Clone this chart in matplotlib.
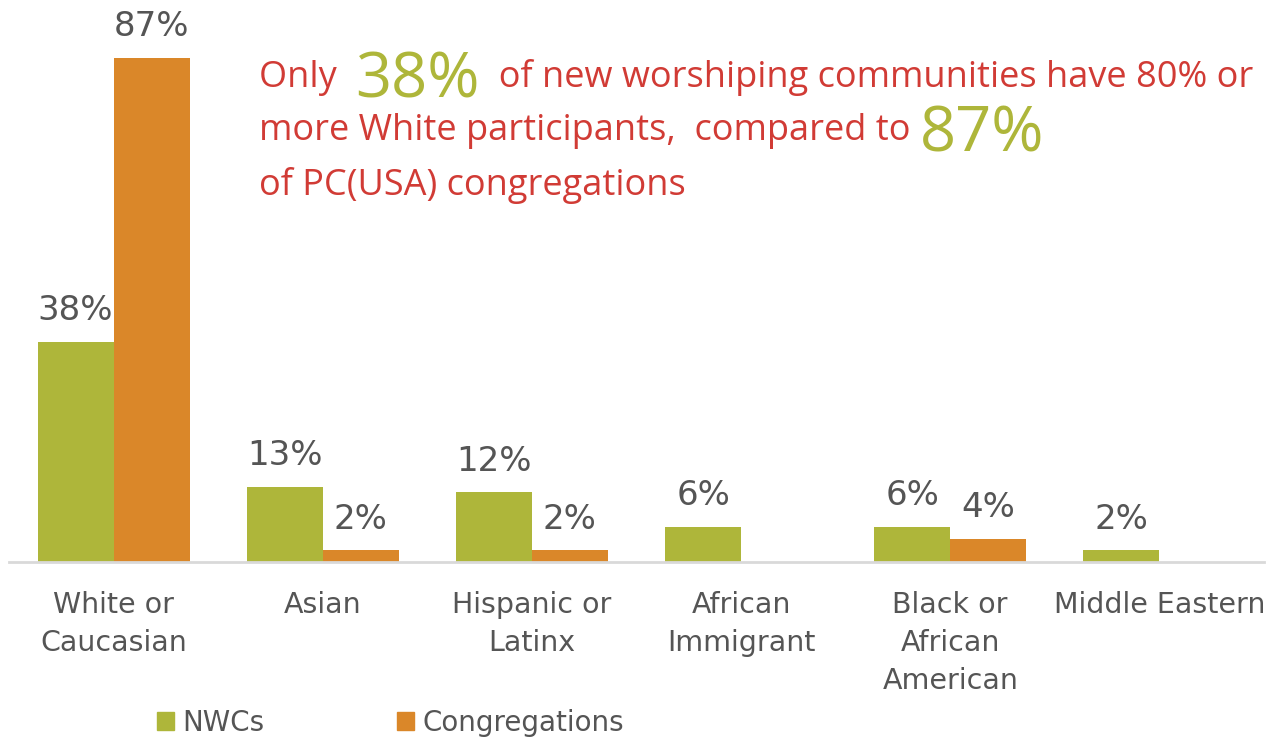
import matplotlib.pyplot as plt
import numpy as np

categories = ["White or\nCaucasian", "Asian", "Hispanic or\nLatinx", "African\nImmigrant",
              "Black or\nAfrican\nAmerican", "Middle Eastern"]
nwcs = [38, 13, 12, 6, 6, 2]
congregations = [87, 2, 2, None, 4, None]
series_names = ["NWCs", "Congregations"]

green = "#AEB63A"
orange = "#DA8729"
red = "#D13B35"
gray = "#555555"

W, H = 1274, 740
fig = plt.figure(figsize=(W / 100, H / 100), dpi=100)
# axes box: baseline at y=562px, 87% bar top at y=58px
ax = fig.add_axes([9 / W, (H - 562) / H, 1255 / W, 504 / H])
ax.set_xlim(-0.5, len(categories) - 0.5)
ax.set_ylim(0, 87)

x = np.arange(len(categories))
bw = 76 / 209.2

def draw_series(vals, offset, color):
    for xi, v in zip(x, vals):
        if v is None:
            continue
        ax.bar(xi + offset, v, width=bw, color=color, clip_on=False)
        ax.annotate(f"{v}%", (xi + offset, v), xytext=(0, 22.5), textcoords="offset points",
                    ha="center", va="center", fontsize=24.5, color=gray, family="DejaVu Sans",
                    annotation_clip=False)

draw_series(nwcs, -bw / 2, green)
draw_series(congregations, bw / 2, orange)

for s in ["top", "right", "left"]:
    ax.spines[s].set_visible(False)
ax.spines["bottom"].set_color("#D9D9D9")
ax.spines["bottom"].set_linewidth(2)
ax.set_yticks([])
ax.set_xticks(x)
ax.set_xticklabels(categories, fontsize=20.5, color=gray, family="DejaVu Sans", linespacing=1.45)
ax.tick_params(axis="x", length=0, pad=21)

# legend
handles = [plt.Rectangle((0, 0), 1, 1, color=green), plt.Rectangle((0, 0), 1, 1, color=orange)]
fig.legend(handles, series_names, loc="center left", bbox_to_anchor=(157 / W, (H - 723) / H),
           ncol=2, frameon=False, handlelength=0.6, handleheight=0.6,
           handletextpad=0.3, columnspacing=4.8, prop={"family": "DejaVu Sans", "size": 20},
           labelcolor=gray, borderpad=0, borderaxespad=0)

# callout text, built piece by piece along each line
renderer = fig.canvas.get_renderer()

def write_line(pieces, x0, y0):
    xpos = x0
    for txt, size, color, dy in pieces:
        t = fig.text(xpos / W, (H - y0 - dy) / H, txt, fontsize=size, color=color,
                     family="Open Sans", ha="left", va="baseline")
        bb = t.get_window_extent(renderer)
        xpos += bb.width

write_line([("Only  ", 26, red, 0), ("38%", 45.5, green, 10),
            ("  of new worshiping communities have 80% or", 26, red, 0)], 259, 87)
write_line([("more White participants,  compared to ", 26, red, 0), ("87%", 45.5, green, 11)], 259, 140)
write_line([("of PC(USA) congregations", 26, red, 0)], 259, 195)

fig.savefig("out.png", dpi=100)
